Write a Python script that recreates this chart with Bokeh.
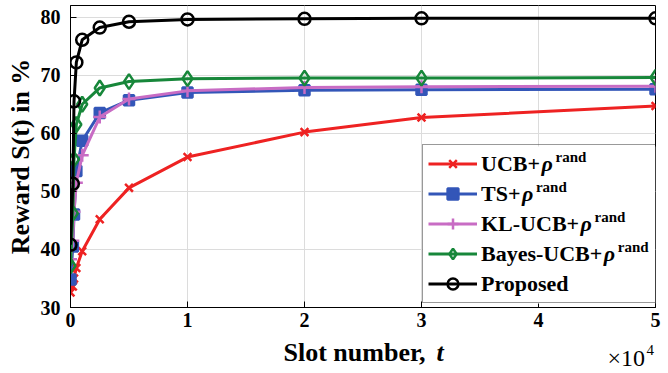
from bokeh.plotting import figure
from bokeh.layouts import column
from bokeh.models import Legend, LegendItem, Label, Range1d, FixedTicker, BoxAnnotation
from bokeh.embed import file_html
from bokeh.resources import INLINE

# ---- data ----
slots = [1, 200, 300, 500, 1000, 2500, 5000, 10000, 20000, 30000, 50000]
ucb = [32.6, 33.6, 35.0, 36.8, 39.7, 45.2, 50.6, 55.9, 60.2, 62.7, 64.7]
ts = [34.8, 40.5, 46.0, 53.5, 58.7, 63.5, 65.7, 67.0, 67.4, 67.5, 67.6]
klucb = [38.3, 41.5, 46.5, 51.5, 56.2, 62.8, 65.9, 67.3, 67.9, 68.0, 68.1]
bayes = [37.2, 46.2, 55.5, 61.5, 65.0, 67.8, 68.9, 69.4, 69.5, 69.5, 69.6]
proposed = [40.8, 51.3, 65.5, 72.2, 76.1, 78.2, 79.2, 79.6, 79.7, 79.8, 79.8]
x_ticks = [0, 1, 2, 3, 4, 5]
y_ticks = [30, 40, 50, 60, 70, 80]
labels_main = ["UCB+", "TS+", "KL-UCB+", "Bayes-UCB+", "Proposed"]
SCALE = 1e4

XMIN, XMAX, YMIN, YMAX = 0, 5, 30, 82
W, H = 668, 373
H1 = 339                      # main figure height
H2 = H - H1                   # strip for x-axis title
FL, FR, FT, FB = 70, 655, 5, 307  # frame pixel edges

FONT = "Liberation Serif"
INK = "black"

p = figure(width=W, height=H1, output_backend="svg", toolbar_location=None,
           x_range=Range1d(XMIN, XMAX), y_range=Range1d(YMIN, YMAX),
           min_border_left=FL, min_border_right=W - FR,
           min_border_top=FT, min_border_bottom=H1 - FB)
p.background_fill_color = "white"
p.border_fill_color = "white"
p.outline_line_color = "black"
p.outline_line_width = 1

p.xaxis.ticker = FixedTicker(ticks=x_ticks)
p.yaxis.ticker = FixedTicker(ticks=y_ticks)
for ax in (p.xaxis[0], p.yaxis[0]):
    ax.major_tick_in = 6
    ax.major_tick_out = 0
    ax.minor_tick_line_color = None
    ax.axis_line_color = "black"
    ax.major_tick_line_color = "black"
    ax.major_label_text_font = FONT
    ax.major_label_text_font_style = "bold"
    ax.major_label_text_font_size = "20px"
    ax.major_label_text_color = INK
    ax.axis_label_text_font = FONT
    ax.axis_label_text_font_style = "bold"
    ax.axis_label_text_font_size = "26px"
    ax.axis_label_text_color = INK
p.yaxis.axis_label = "Reward S(t) in %"
p.xaxis.major_label_standoff = 5
p.yaxis.major_label_standoff = 10
p.yaxis.axis_label_standoff = 3

p.grid.grid_line_color = "#dcdcdc"
p.grid.grid_line_width = 1

xs = [s / SCALE for s in slots]

series = [
    (ucb, "#ee2222", "x", 11, None),
    (ts, "#3356b8", "square", 10, "#3356b8"),
    (klucb, "#c86cc4", "cross", 13, None),
    (bayes, "#17873a", "diamond", 15, None),
    (proposed, "black", "circle", 12, None),
]
items = []
for (vals, col, mk, sz, fill), lab in zip(series, labels_main):
    lr = p.line(xs, vals, line_color=col, line_width=3)
    sr = p.scatter(xs, vals, marker=mk, size=sz, line_color=col, line_width=2.5,
                   fill_color=fill, fill_alpha=1 if fill else 0)
    items.append(LegendItem(label=lab, renderers=[lr, sr]))


def px2x(px):
    return XMIN + (px - FL) / (FR - FL) * (XMAX - XMIN)


def py2y(py):
    return YMIN + (FB - py) / (FB - FT) * (YMAX - YMIN)


# legend geometry (pixels)
LG_LEFT, LG_BOTTOM = 422, 303
PAD, GW, STAND, LH, SP, LW = 5, 49, 4, 27, 3, 170
lg_height = 2 * PAD + 5 * LH + 4 * SP
lg_top = LG_BOTTOM - lg_height
lg_right = LG_LEFT + 2 * PAD + GW + STAND + LW

# white backing of the legend (legend itself is transparent so texts show)
p.add_layout(BoxAnnotation(left=px2x(LG_LEFT), right=px2x(lg_right),
                           bottom=py2y(LG_BOTTOM), top=py2y(lg_top),
                           fill_color="white", fill_alpha=1, line_alpha=0))

# superscripts rho^rand after legend labels
main_widths = [59.0, 39.4, 98.1, 121.3]
text_x0 = LG_LEFT + PAD + GW + STAND
for i, wdt in enumerate(main_widths):
    cy = lg_top + PAD + LH / 2 + i * (LH + SP)
    p.add_layout(Label(x=px2x(text_x0 + wdt + 2), y=py2y(cy + 11), text="ρ",
                       text_font=FONT, text_font_style="bold italic",
                       text_font_size="22px", text_color=INK))
    p.add_layout(Label(x=px2x(text_x0 + wdt + 16), y=py2y(cy), text="rand",
                       text_font=FONT, text_font_style="bold",
                       text_font_size="15px", text_color=INK))

legend = Legend(items=items, location=(LG_LEFT - FL, FB - LG_BOTTOM), margin=0,
                padding=PAD, glyph_width=GW, glyph_height=LH, label_height=LH,
                label_standoff=STAND, spacing=SP, label_width=LW,
                label_text_font=FONT, label_text_font_style="bold",
                label_text_font_size="22px", label_text_color=INK,
                border_line_color="#333333", border_line_width=1,
                background_fill_alpha=0)
p.add_layout(legend)

# ---- strip below holding the x-axis title and the x10^4 multiplier ----
# its frame is aligned with the main frame, so data units = canvas pixels
p2 = figure(width=W, height=H2, output_backend="svg", toolbar_location=None,
            x_range=Range1d(FL, FR), y_range=Range1d(0, H2),
            x_axis_location=None, y_axis_location=None, min_border=0)
p2.grid.visible = False
p2.outline_line_color = None
p2.background_fill_color = "white"
p2.border_fill_color = "white"


def sy(py, half_box):
    # canvas y (top-down) of a text centre -> strip bottom of text box
    return (H - py) - half_box


p2.add_layout(Label(x=283, y=sy(352, 14.4), text="Slot number, ", text_font=FONT,
                    text_font_style="bold", text_font_size="26px", text_color=INK))
p2.add_layout(Label(x=436, y=sy(352, 14.4), text="t", text_font=FONT,
                    text_font_style="bold italic", text_font_size="26px",
                    text_color=INK))
p2.add_layout(Label(x=607, y=sy(357, 13.3), text="×10", text_font=FONT,
                    text_font_size="24px", text_color=INK))
p2.add_layout(Label(x=646, y=sy(346, 8.3), text="4", text_font=FONT,
                    text_font_size="15px", text_color=INK))

layout = column(p, p2, spacing=0)
open("out.html", "w").write(file_html(layout, INLINE))
